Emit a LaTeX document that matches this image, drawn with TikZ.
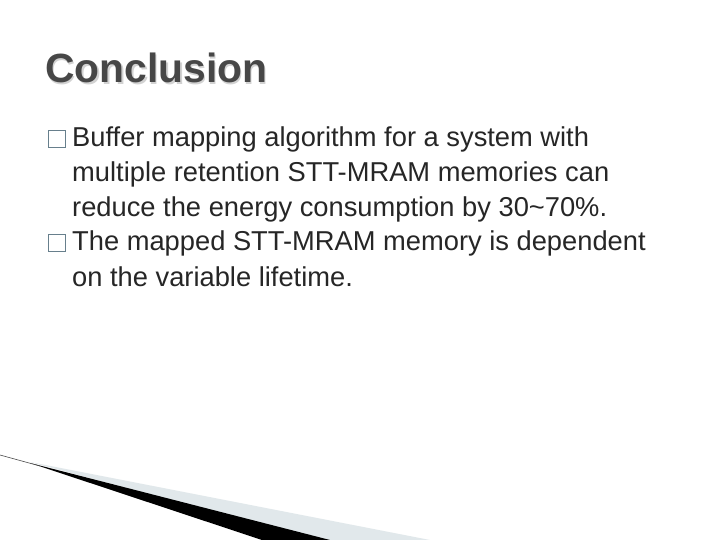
\documentclass[tikz,border=0pt]{standalone}
\usepackage{fontspec}
\setmainfont{Liberation Sans}
\begin{document}
\begin{tikzpicture}[x=1pt,y=-1pt,
  body/.style={anchor=base west,inner sep=0,font=\fontsize{27.3}{27}\selectfont,text=black!85},
  bul/.style={draw=gray!60!cyan!70!black,fill=white,line width=1.2pt,minimum size=17pt,inner sep=0}]
\useasboundingbox (0,0) rectangle (720,540);
\fill[white] (0,0) rectangle (720,540);
% decoration
\fill[cyan!20!gray!22!white] (30,462) -- (430,540) -- (320,540) -- cycle;
\fill[black] (30,463) -- (330,540) -- (262,540) -- cycle;
\draw[gray!60!black,line width=0.6pt] (0,455) -- (40,466);
% title
\node[anchor=base west,inner sep=0,font=\fontsize{40.8}{40}\selectfont\bfseries,text=gray!35] at (46.5,84.5) {Conclusion};
\node[anchor=base west,inner sep=0,font=\fontsize{40.8}{40}\selectfont\bfseries,text=black!72] (t) at (45,83) {Conclusion};
% bullets
\node[bul] (b1) at (57,139) {};
\node[body] (l1) at (72,147) {Buffer mapping algorithm for a system with};
\node[body] (l2) at (72,182) {multiple retention STT-MRAM memories can};
\node[body] (l3) at (72,216) {reduce the energy consumption by 30\textasciitilde70\%.};
\node[bul] (b2) at (57,243) {};
\node[body] (l4) at (72,251) {The mapped STT-MRAM memory is dependent};
\node[body] (l5) at (72,286) {on the variable lifetime.};
\end{tikzpicture}
\end{document}
